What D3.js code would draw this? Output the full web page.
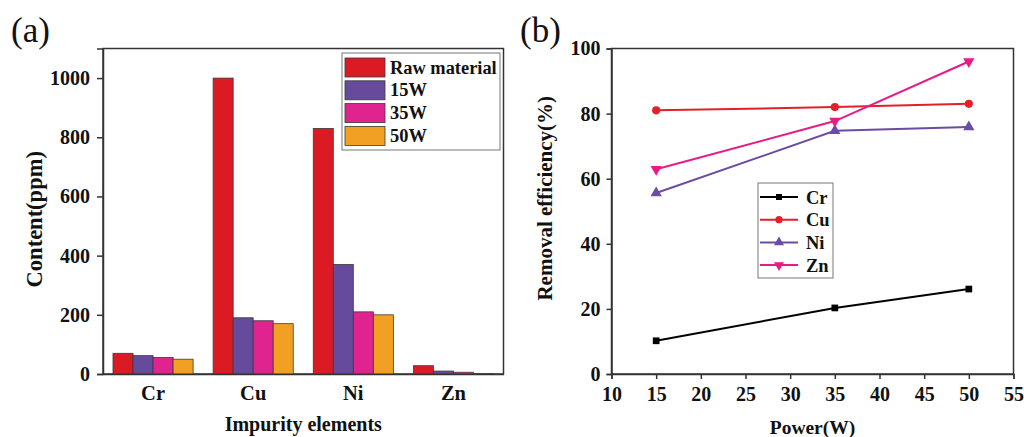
<!DOCTYPE html>
<html><head><meta charset="utf-8">
<script src="https://cdn.jsdelivr.net/npm/d3@7"></script>
<style>
html,body{margin:0;padding:0;background:#fff;}
svg text{font-family:"Liberation Serif","Times New Roman",serif;}
</style></head>
<body><svg id="c" width="1024" height="437"></svg>
<script>
// ---- Data: panel (a)
const elements = ["Cr", "Cu", "Ni", "Zn"];
const seriesA = ["Raw material", "15W", "35W", "50W"];
const rawMaterial = [70, 1000, 830, 28];
const w15 = [62, 190, 370, 10];
const w35 = [56, 180, 210, 6];
const w50 = [50, 170, 200, 1];
const contentTicks = [0, 200, 400, 600, 800, 1000];
// ---- Data: panel (b)
const powers = [15, 35, 50];
const seriesB = ["Cr", "Cu", "Ni", "Zn"];
const effCr = [10.2, 20.3, 26.1];
const effCu = [81, 82, 83];
const effNi = [55.6, 74.7, 75.9];
const effZn = [62.9, 77.7, 96];
const powerTicks = [10, 15, 20, 25, 30, 35, 40, 45, 50, 55];
const effTicks = [0, 20, 40, 60, 80, 100];

const svg = d3.select("#c");
const axisColor = "#333";
const FONT = "Liberation Serif";

function styleAxis(g, size) {
  g.attr("font-family", FONT);
  g.select(".domain").attr("stroke", axisColor).attr("stroke-width", 1.5);
  g.selectAll(".tick line").attr("stroke", axisColor).attr("stroke-width", 1.5);
  g.selectAll("text").attr("font-size", size).attr("font-weight", "bold").attr("fill", "#111");
}

// ================= Panel (a)
const A = {l: 103, r: 503.5, t: 48.5, b: 374};
const colorsA = ["#dc1a24", "#664a9c", "#e0248f", "#f2a024"];
const valsA = [rawMaterial, w15, w35, w50];
const xA = d3.scaleBand().domain(elements).range([A.l, A.r]).paddingInner(0.2).paddingOuter(0.1);
const xsA = d3.scaleBand().domain(seriesA).range([0, xA.bandwidth()]);
const yA = d3.scaleLinear().domain([0, 1100]).range([A.b, A.t]);

const gA = svg.append("g");
gA.append("rect").attr("x", A.l).attr("y", A.t).attr("width", A.r - A.l).attr("height", A.b - A.t)
  .attr("fill", "none").attr("stroke", axisColor).attr("stroke-width", 1.5);

const groups = gA.selectAll("g.grp").data(elements).join("g").attr("class", "grp")
  .attr("transform", d => `translate(${xA(d)},0)`);
groups.selectAll("rect").data((d, i) => seriesA.map((s, j) => ({s, v: valsA[j][i], c: colorsA[j]})))
  .join("rect")
  .attr("x", d => xsA(d.s)).attr("width", xsA.bandwidth())
  .attr("y", d => yA(d.v)).attr("height", d => yA(0) - yA(d.v))
  .attr("fill", d => d.c).attr("stroke", "#3a3a3a").attr("stroke-width", 0.8);

const yAxisA = gA.append("g").attr("transform", `translate(${A.l},0)`)
  .call(d3.axisLeft(yA).tickValues(contentTicks).tickFormat(d3.format("d")).tickSize(6).tickPadding(7));
styleAxis(yAxisA, 20);

const xAxisA = gA.append("g").attr("transform", `translate(0,${A.b})`)
  .call(d3.axisBottom(xA).tickSize(0).tickPadding(11));
styleAxis(xAxisA, 20.5);

gA.append("text").attr("x", (A.l + A.r) / 2).attr("y", 431).attr("text-anchor", "middle")
  .attr("font-size", 20).attr("font-weight", "bold").attr("fill", "#111").text("Impurity elements");
gA.append("text").attr("transform", `translate(42,${(A.t + A.b) / 2 + 8}) rotate(-90)`).attr("text-anchor", "middle")
  .attr("font-size", 22.5).attr("font-weight", "bold").attr("fill", "#111").text("Content(ppm)");
gA.append("text").attr("x", 11).attr("y", 42).attr("font-size", 35).attr("fill", "#111").text("(a)");

// legend (a)
const legA = gA.append("g");
legA.append("rect").attr("x", 342).attr("y", 53).attr("width", 158).attr("height", 97)
  .attr("fill", "#fff").attr("stroke", "#777").attr("stroke-width", 1);
seriesA.forEach((s, j) => {
  const y0 = 58 + j * 22.8;
  legA.append("rect").attr("x", 345).attr("y", y0).attr("width", 40).attr("height", 19)
    .attr("fill", colorsA[j]).attr("stroke", "#3a3a3a").attr("stroke-width", 0.8);
  legA.append("text").attr("x", 390).attr("y", y0 + 15.5).attr("font-size", 18.4).attr("font-weight", "bold")
    .attr("fill", "#111").text(s);
});

// ================= Panel (b)
const B = {l: 611.5, r: 1013.5, t: 48.5, b: 374};
const colorsB = ["#000000", "#e3202a", "#6a4ca4", "#ea1a84"];
const valsB = [effCr, effCu, effNi, effZn];
const xB = d3.scaleLinear().domain([10, 55]).range([B.l, B.r]);
const yB = d3.scaleLinear().domain([0, 100]).range([B.b, B.t]);

const gB = svg.append("g");
gB.append("rect").attr("x", B.l).attr("y", B.t).attr("width", B.r - B.l).attr("height", B.b - B.t)
  .attr("fill", "none").attr("stroke", axisColor).attr("stroke-width", 1.5);

const yAxisB = gB.append("g").attr("transform", `translate(${B.l},0)`)
  .call(d3.axisLeft(yB).tickValues(effTicks).tickSize(5).tickPadding(6));
styleAxis(yAxisB, 20);

const xAxisB = gB.append("g").attr("transform", `translate(0,${B.b})`)
  .call(d3.axisBottom(xB).tickValues(powerTicks).tickSize(5).tickPadding(8));
styleAxis(xAxisB, 20);

gB.append("text").attr("x", (B.l + B.r) / 2).attr("y", 434).attr("text-anchor", "middle")
  .attr("font-size", 19.5).attr("font-weight", "bold").attr("fill", "#111").text("Power(W)");
gB.append("text").attr("transform", `translate(552,${(B.t + B.b) / 2 - 13}) rotate(-90)`).attr("text-anchor", "middle")
  .attr("font-size", 21).attr("font-weight", "bold").attr("fill", "#111").text("Removal efficiency(%)");
gB.append("text").attr("x", 520).attr("y", 42).attr("font-size", 35).attr("fill", "#111").text("(b)");

const symbols = [d3.symbolSquare, d3.symbolCircle, d3.symbolTriangle, d3.symbolTriangle];
const symSizes = [45, 52, 55, 55];
const symRot = [0, 0, 0, 180];
const line = d3.line().x(d => xB(d[0])).y(d => yB(d[1]));

seriesB.forEach((s, j) => {
  const pts = powers.map((p, i) => [p, valsB[j][i]]);
  gB.append("path").attr("d", line(pts)).attr("fill", "none").attr("stroke", colorsB[j]).attr("stroke-width", 2);
  gB.selectAll(null).data(pts).join("path")
    .attr("transform", d => `translate(${xB(d[0])},${yB(d[1])}) rotate(${symRot[j]})`)
    .attr("d", d3.symbol().type(symbols[j]).size(symSizes[j]))
    .attr("fill", colorsB[j]);
});

// legend (b)
const legB = gB.append("g");
legB.append("rect").attr("x", 758).attr("y", 183).attr("width", 75).attr("height", 95)
  .attr("fill", "#fff").attr("stroke", "#777").attr("stroke-width", 1);
seriesB.forEach((s, j) => {
  const yy = 197 + j * 22.7;
  legB.append("line").attr("x1", 760).attr("x2", 798).attr("y1", yy).attr("y2", yy)
    .attr("stroke", colorsB[j]).attr("stroke-width", 2);
  legB.append("path").attr("transform", `translate(779,${yy}) rotate(${symRot[j]})`)
    .attr("d", d3.symbol().type(symbols[j]).size(symSizes[j] * 0.8)).attr("fill", colorsB[j]);
  legB.append("text").attr("x", 806).attr("y", yy + 6.5).attr("font-size", 18.5).attr("font-weight", "bold")
    .attr("fill", "#111").text(s);
});
</script></body></html>
